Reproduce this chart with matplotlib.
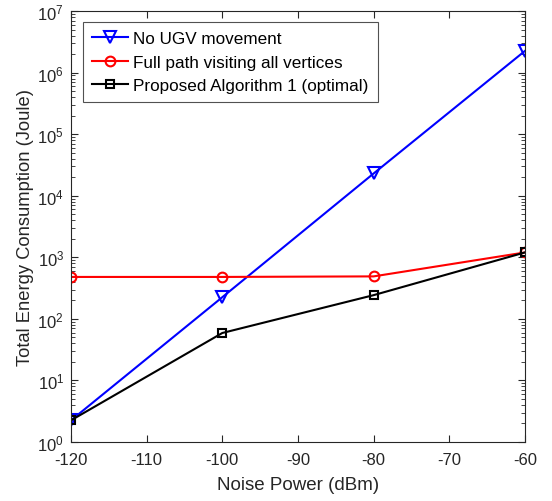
import matplotlib
matplotlib.use("Agg")
import matplotlib.pyplot as plt
from matplotlib.ticker import LogLocator, NullFormatter

plt.rcParams['font.family'] = ['Liberation Sans', 'DejaVu Sans']
plt.rcParams['axes.unicode_minus'] = False

noise_dbm = [-120, -100, -80, -60]
no_ugv = [2.25, 225, 23000, 2.25e6]
full_path = [480, 480, 490, 1200]
proposed = [2.25, 59, 243, 1200]

labels = ["No UGV movement", "Full path visiting all vertices", "Proposed Algorithm 1 (optimal)"]

fig = plt.figure(figsize=(5.52, 5.02), dpi=100)
ax = fig.add_axes([0.1286, 0.1175, 0.8224, 0.8585])

ax.plot(noise_dbm, no_ugv, color='#0000ff', lw=1.5, marker='v', ms=8, mfc='none', mew=1.5, label=labels[0])
ax.plot(noise_dbm, full_path, color='#ff0000', lw=1.5, marker='o', ms=7, mfc='none', mew=1.5, label=labels[1])
ax.plot(noise_dbm, proposed, color='#000000', lw=1.5, marker='s', ms=6, mfc='none', mew=1.5, label=labels[2])

ax.set_yscale('log')
ax.set_xlim(-120, -60)
ax.set_ylim(1, 1e7)
ax.set_xticks(list(range(-120, -59, 10)))
ax.yaxis.set_major_locator(LogLocator(base=10, numticks=20))
ax.yaxis.set_minor_locator(LogLocator(base=10, subs=range(2, 10), numticks=20))
ax.yaxis.set_minor_formatter(NullFormatter())

ax.tick_params(which='both', direction='in', top=True, right=True, labelsize=12, colors='#262626')
ax.tick_params(which='major', length=5, width=0.8)
ax.tick_params(which='minor', length=3, width=0.6)
ax.tick_params(axis='x', pad=7)
ax.tick_params(axis='y', pad=5)
for s in ax.spines.values():
    s.set_color('#262626')
    s.set_linewidth(0.8)

ax.set_xlabel("Noise Power (dBm)", fontsize=13.5, color='#262626', labelpad=7)
ax.set_ylabel("Total Energy Consumption (Joule)", fontsize=13.2, color='#262626', labelpad=2)

leg = ax.legend(loc='upper left', bbox_to_anchor=(0.0264, 0.9745), fontsize=12.3, frameon=True,
                fancybox=False, edgecolor='#262626', handlelength=2.1, borderpad=0.55,
                labelspacing=0.48, handletextpad=0.3, borderaxespad=0)
leg.get_frame().set_linewidth(0.8)

fig.savefig("out.png", dpi=100)
